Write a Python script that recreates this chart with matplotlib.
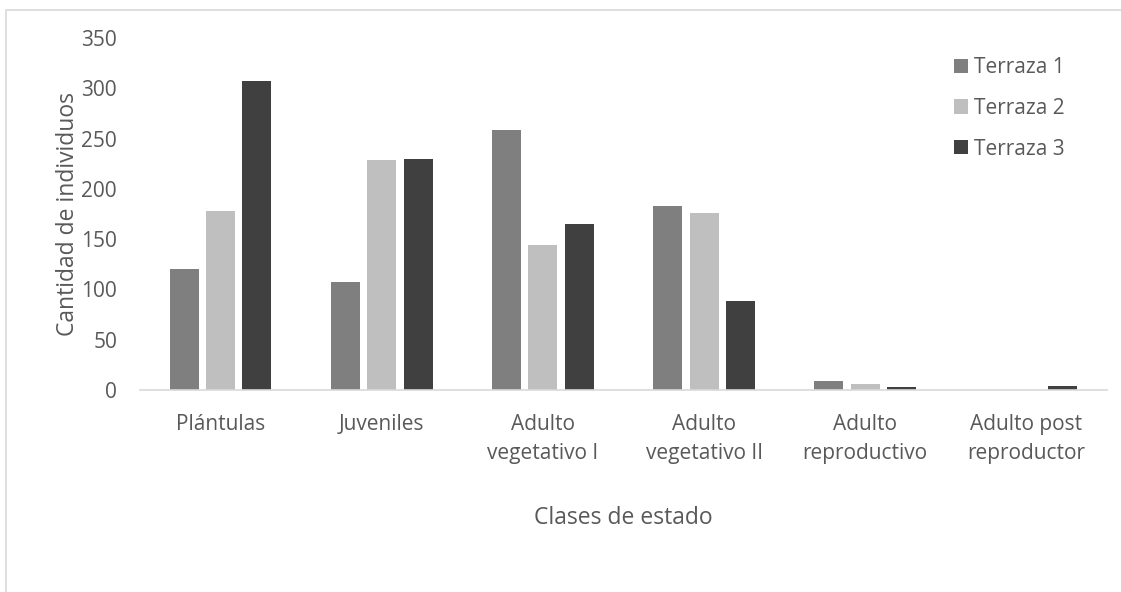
import matplotlib.pyplot as plt
from matplotlib.patches import Rectangle
import numpy as np

categories = ['Plántulas', 'Juveniles', 'Adulto\nvegetativo I', 'Adulto\nvegetativo II',
              'Adulto\nreproductivo', 'Adulto post\nreproductor']
series_names = ['Terraza 1', 'Terraza 2', 'Terraza 3']
terraza1 = [120, 107, 259, 183, 9, 0]
terraza2 = [178, 229, 144, 176, 6, 0]
terraza3 = [307, 230, 165, 89, 3, 4]
colors = ['#7f7f7f', '#bfbfbf', '#404040']

plt.rcParams['font.family'] = ['Open Sans', 'DejaVu Sans']
txt = '#595959'

fig = plt.figure(figsize=(11.21, 5.92), dpi=100)
# light border of the chart area (left and top edges visible)
fig.add_artist(Rectangle((6 / 1121, -0.05), 1.2, 1.05 - 10 / 592, transform=fig.transFigure,
                         fill=False, edgecolor='#d9d9d9', linewidth=1.2))
ax = fig.add_axes([0.1249, 0.3412, 0.8626, 0.5946])

x = np.arange(len(categories))
w = 0.18
gap = 0.225
for i, (vals, name) in enumerate(zip([terraza1, terraza2, terraza3], series_names)):
    ax.bar(x + (i - 1) * gap, vals, width=w, color=colors[i], label=name)

ax.set_xlim(-0.5, len(categories) - 0.5)
ax.set_ylim(0, 350)
ax.set_yticks(range(0, 351, 50))
ax.set_xticks(x)
ax.set_xticklabels(categories, fontsize=15, color=txt, linespacing=1.45)
ax.tick_params(axis='y', labelsize=15, colors=txt, length=0, pad=16.5)
ax.tick_params(axis='x', length=0, pad=17.5)
for s in ['top', 'right', 'left']:
    ax.spines[s].set_visible(False)
ax.spines['bottom'].set_color('#d9d9d9')
ax.spines['bottom'].set_linewidth(1.2)

ax.set_ylabel('Cantidad de individuos', fontsize=16.5, color=txt)
ax.yaxis.set_label_coords(-0.062, 0.5)
fig.text(0.5556, 1 - 518 / 592, 'Clases de estado', ha='center', va='center', fontsize=16.5, color=txt)

leg = fig.legend(loc='upper left', bbox_to_anchor=(954 / 1121, 1 - 57 / 592), frameon=False,
                 fontsize=15, handlelength=0.67, handleheight=0.67, labelspacing=0.95,
                 handletextpad=0.3, borderpad=0, borderaxespad=0)
for t in leg.get_texts():
    t.set_color(txt)

fig.savefig('out.png', dpi=100)
